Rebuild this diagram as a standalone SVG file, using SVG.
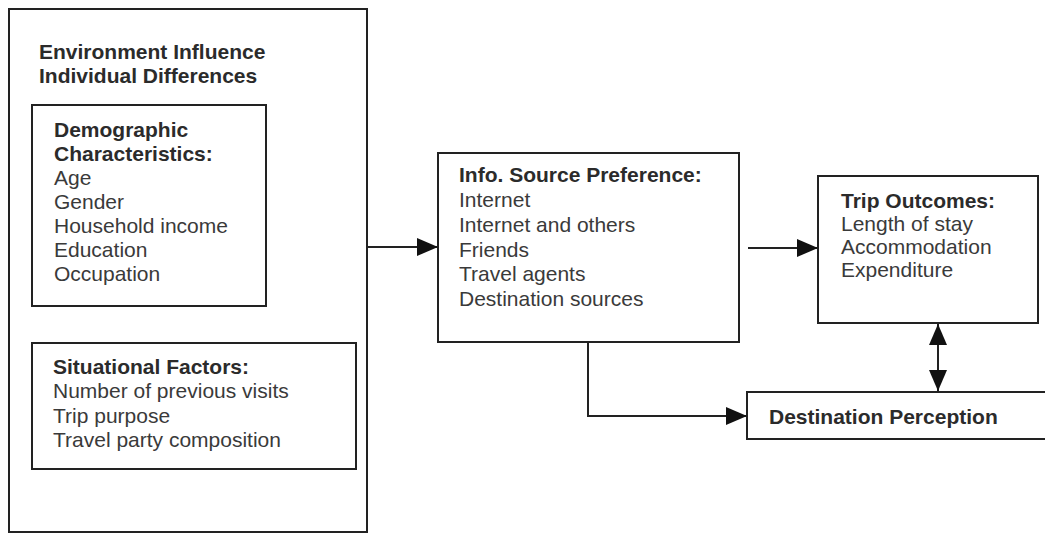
<svg xmlns="http://www.w3.org/2000/svg" width="1045" height="533" viewBox="0 0 1045 533">
<style>
.box{fill:#fff;stroke:#222;stroke-width:2}
.b{font-family:"Liberation Sans",Arial,sans-serif;font-size:21px;font-weight:bold;fill:#2b2b2b}
.t{font-family:"Liberation Sans",Arial,sans-serif;font-size:21px;fill:#3a3a3a}
.c{fill:none;stroke:#222;stroke-width:2}
</style>
<defs>
<marker id="ah" viewBox="0 0 21 18" refX="21" refY="9" markerWidth="21" markerHeight="18" markerUnits="userSpaceOnUse" orient="auto-start-reverse">
<path d="M0,0 L21,9 L0,18 Z" fill="#111"/>
</marker>
</defs>
<rect width="1045" height="533" fill="#fff"/>
<g id="outer">
<rect class="box" x="9" y="9" width="358" height="523"/>
<text class="b" x="39" y="59">Environment Influence</text>
<text class="b" x="39" y="83">Individual Differences</text>
</g>
<g id="demographic">
<rect class="box" x="32" y="105" width="234" height="201"/>
<text class="b" x="54" y="137">Demographic</text>
<text class="b" x="54" y="161">Characteristics:</text>
<text class="t" x="54" y="185">Age</text>
<text class="t" x="54" y="209">Gender</text>
<text class="t" x="54" y="233">Household income</text>
<text class="t" x="54" y="257">Education</text>
<text class="t" x="54" y="281">Occupation</text>
</g>
<g id="situational">
<rect class="box" x="32" y="343" width="324" height="126"/>
<text class="b" x="53" y="374">Situational Factors:</text>
<text class="t" x="53" y="398">Number of previous visits</text>
<text class="t" x="53" y="423">Trip purpose</text>
<text class="t" x="53" y="447">Travel party composition</text>
</g>
<g id="info">
<rect class="box" x="438" y="153" width="301" height="189"/>
<text class="b" x="459" y="182">Info. Source Preference:</text>
<text class="t" x="459" y="207">Internet</text>
<text class="t" x="459" y="232">Internet and others</text>
<text class="t" x="459" y="257">Friends</text>
<text class="t" x="459" y="281">Travel agents</text>
<text class="t" x="459" y="306">Destination sources</text>
</g>
<g id="trip">
<rect class="box" x="818" y="176" width="220" height="147"/>
<text class="b" x="841" y="208">Trip Outcomes:</text>
<text class="t" x="841" y="231">Length of stay</text>
<text class="t" x="841" y="254">Accommodation</text>
<text class="t" x="841" y="277">Expenditure</text>
</g>
<g id="destination">
<rect class="box" x="747" y="392" width="310" height="47"/>
<text class="b" x="769" y="424">Destination Perception</text>
</g>
<g id="connectors">
<line class="c" x1="367" y1="247" x2="438" y2="247" marker-end="url(#ah)"/>
<line class="c" x1="748" y1="248" x2="818" y2="248" marker-end="url(#ah)"/>
<polyline class="c" points="588,342 588,416 747,416" marker-end="url(#ah)"/>
<line class="c" x1="938" y1="324" x2="938" y2="391" marker-start="url(#ah)" marker-end="url(#ah)"/>
</g>
</svg>
